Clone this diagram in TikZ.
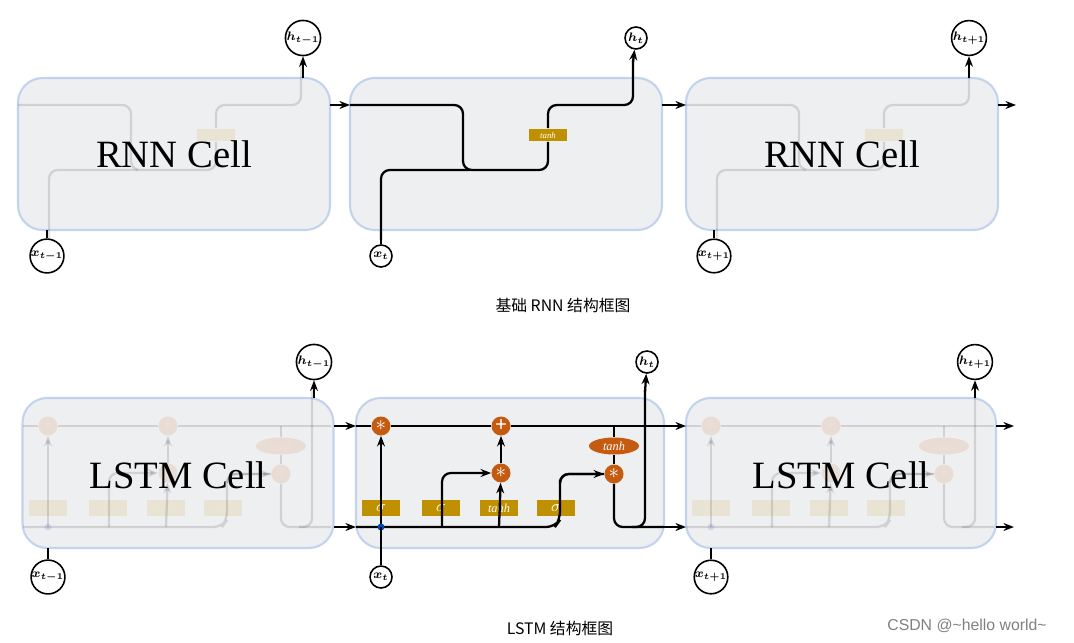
\documentclass[tikz,border=0pt]{standalone}
\usepackage{fontspec}
\setmainfont{Liberation Serif}
\newfontfamily\cjk{Noto Sans CJK SC}
\newfontfamily\wm{Liberation Sans}
\usetikzlibrary{shapes.geometric,arrows.meta}
\definecolor{cellfill}{HTML}{EEEFF1}
\definecolor{cellline}{HTML}{C3D3EE}
\definecolor{gold}{HTML}{BF9000}
\definecolor{rust}{HTML}{C55A11}
\tikzset{
  cell/.style={draw=cellline,fill=cellfill,line width=1.2pt,rounded corners=14pt},
  wire/.style={line width=1.3pt,rounded corners=5pt},
  arr/.style={wire,-{Stealth[length=6pt]}},
  gate/.style={fill=gold,text=white,inner sep=0pt,minimum width=0.76cm,minimum height=0.32cm,font=\small\itshape},
  op/.style={circle,fill=rust,text=white,inner sep=0pt,minimum size=0.38cm,font=\bfseries\large},
  io/.style={circle,draw,fill=white,line width=0.9pt,inner sep=0pt,minimum size=0.44cm,font=\scriptsize\boldmath},
  faded/.style={opacity=0.12},
  celltext/.style={font=\fontsize{22}{24}\selectfont},
}
\newcommand\rnninner{%
  \node[gate,minimum height=0.26cm,font=\tiny\itshape] (tanh) at (548,135) {tanh};
  \draw[wire] (350,105) -| (463,170) -| (tanh.south);
  \draw[wire] (381,240) |- (470,170);
  \draw[wire] (tanh.north) |- (633,105) -- (633,60);
}
\newcommand\lstminner{%
  \node[op] (f) at (381,426) {$\ast$};
  \node[op] (add) at (501,426) {+};
  \node[op] (m) at (501,473) {$\ast$};
  \node[op] (o) at (614,474) {$\ast$};
  \node[ellipse,fill=rust,text=white,minimum width=1.0cm,minimum height=0.34cm,inner sep=0pt,font=\scriptsize\itshape] (th) at (614,446) {tanh};
  \node[gate] (sf) at (381,508) {$\sigma$};
  \node[gate] (si) at (441,508) {$\sigma$};
  \node[gate,font=\scriptsize\itshape] (tc) at (499,508) {tanh};
  \node[gate] (so) at (556,508) {$\sigma$};
  \draw[wire] (356,426) -- (f) -- (add) -- (664,426);
  \draw[wire] (th.north) -- (614,426);
  \draw[wire] (th.south) -- (o);
  \draw[wire] (356,527) -- (555,527) -- (560,520) |- (o);
  \draw[arr] (560,480) |- (o);
  \draw[arr] (442,527) |- (m);
  \draw[arr] (499,527) -- (m);
  \draw[arr] (m) -- (add);
  \draw[arr] (381,527) -- (f);
  \draw[wire] (o) |- (664,527);
  \draw[wire] (632,527) -| (645,390);
  \fill[blue!60!cyan!70!black] (381,527) circle (3.5);
}
\begin{document}
\begin{tikzpicture}[x=0.02cm,y=-0.02cm]
\useasboundingbox (0,0) rectangle (1074,642);
% basic RNN row
\node[cell,minimum width=6.24cm,minimum height=3.04cm] (r1) at (174,154) {};
\node[cell,minimum width=6.24cm,minimum height=3.04cm] (r2) at (506,154) {};
\node[cell,minimum width=6.24cm,minimum height=3.04cm] (r3) at (842,154) {};
\begin{scope}[faded,xshift=-332*0.02cm,name prefix=a-] \rnninner \end{scope}
\begin{scope}[faded,xshift=336*0.02cm,name prefix=c-] \rnninner \end{scope}
\rnninner
\node[celltext] at (174,154) {RNN Cell};
\node[celltext] at (842,154) {RNN Cell};
\node[io] (h0) at (303,38) {$h_{t-1}$};
\node[io] (h1) at (636,38) {$h_t$};
\node[io] (h2) at (969,38) {$h_{t+1}$};
\node[io] (x0) at (47,256) {$x_{t-1}$};
\node[io] (x1) at (381,256) {$x_t$};
\node[io] (x2) at (714,256) {$x_{t+1}$};
\draw[arr] (303,78) -- (h0);
\draw[arr] (633,62) -- (h1);
\draw[arr] (969,78) -- (h2);
\draw[wire] (x0) -- (47,230);
\draw[wire] (x1) -- (381,238);
\draw[wire] (x2) -- (714,230);
\draw[arr] (330,105) -- (350,105);
\draw[arr] (662,105) -- (686,105);
\draw[arr] (998,105) -- (1016,105);
\node[font=\cjk\small] (cap1) at (563,305) {基础 RNN 结构框图};
% LSTM row
\node[cell,minimum width=6.22cm,minimum height=3.0cm] (l1) at (178,473) {};
\node[cell,minimum width=6.16cm,minimum height=3.0cm] (l2) at (510,473) {};
\node[cell,minimum width=6.2cm,minimum height=3.0cm] (l3) at (841,473) {};
\begin{scope}[faded,xshift=-333*0.02cm,name prefix=a-] \lstminner \end{scope}
\begin{scope}[faded,xshift=330*0.02cm,name prefix=c-] \lstminner \end{scope}
\lstminner
\node[celltext] at (178,475) {LSTM Cell};
\node[celltext] at (841,475) {LSTM Cell};
\node[io] (lh0) at (314,362) {$h_{t-1}$};
\node[io] (lh1) at (647,362) {$h_t$};
\node[io] (lh2) at (975,362) {$h_{t+1}$};
\node[io] (lx0) at (48,577) {$x_{t-1}$};
\node[io] (lx1) at (381,577) {$x_t$};
\node[io] (lx2) at (711,577) {$x_{t+1}$};
\draw[arr] (314,398) -- (lh0);
\draw[arr] (645,392) -- (lh1);
\draw[arr] (975,398) -- (lh2);
\draw[wire] (lx0) -- (48,548);
\draw[wire] (lx1) -- (381,527);
\draw[wire] (lx2) -- (711,548);
\foreach \y in {426,527} {
  \draw[arr] (334,\y) -- (356,\y);
  \draw[arr] (664,\y) -- (686,\y);
  \draw[arr] (996,\y) -- (1014,\y);
}
\node[font=\cjk\small] (cap2) at (560,628) {LSTM 结构框图};
\node[font=\wm\small,text=gray] (mark) at (967,626) {CSDN @\textasciitilde hello world\textasciitilde};
\end{tikzpicture}
\end{document}
